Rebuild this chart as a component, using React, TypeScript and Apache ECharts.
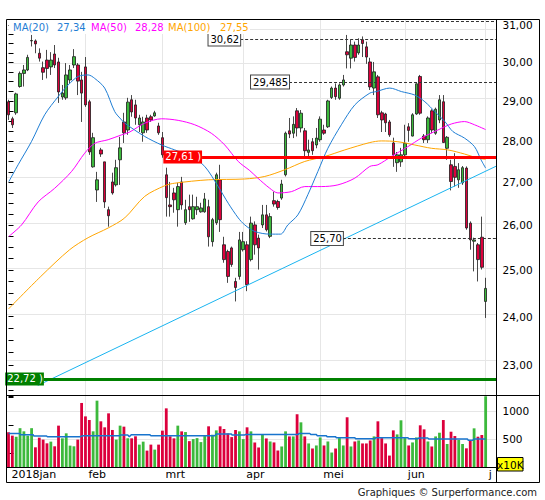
import React, { useEffect, useRef } from "react";
import * as echarts from "echarts";

// ---- price data (one entry per trading day, 2018-01-04 .. 2018-07-02) ----
const openP = [28.98,28.55,28.70,29.37,29.71,29.80,30.57,30.57,30.24,29.86,30.06,29.88,30.22,30.01,29.10,29.08,29.54,29.93,29.93,29.54,
29.88,28.98,27.37,26.82,27.78,27.49,26.36,27.01,26.94,27.54,28.47,28.27,29.03,28.90,28.40,28.20,28.57,28.60,28.62,28.37,
28.08,27.18,26.47,26.75,26.36,27.01,26.06,26.43,26.15,26.36,26.31,26.31,26.43,25.63,26.06,27.06,25.56,25.41,25.49,24.75,
24.86,25.45,25.56,25.23,26.01,25.71,26.01,26.24,25.75,26.57,26.55,26.63,27.18,28.25,28.19,28.75,28.32,28.25,27.72,27.98,
27.90,28.03,28.27,28.35,29.09,29.33,29.07,29.41,30.28,30.11,30.46,30.25,30.60,30.41,30.01,29.33,29.62,28.70,28.67,28.47,
27.95,27.47,27.49,27.66,28.35,28.12,28.67,29.63,28.12,28.03,28.75,28.19,28.52,28.98,27.82,27.42,27.38,27.06,26.99,27.34,
26.05,25.64,25.56,25.73,24.32];
const closeP = [28.65,28.40,29.18,29.71,29.80,30.13,30.58,30.49,30.11,29.74,29.84,30.06,29.93,29.23,29.20,29.67,29.80,30.15,29.51,29.20,
28.90,27.73,28.08,27.06,27.68,26.54,26.22,26.75,27.35,27.83,28.20,28.97,28.72,28.57,28.57,28.47,28.27,28.52,28.70,28.20,
27.66,26.64,26.43,26.59,26.90,26.47,26.36,26.36,26.43,26.43,26.40,26.61,25.74,26.13,27.18,26.13,25.23,24.86,25.12,24.62,
25.67,25.63,24.68,26.05,25.56,25.49,26.24,25.90,26.20,26.49,26.41,26.96,28.19,28.17,28.41,28.32,28.69,27.76,27.78,27.76,
28.07,28.54,28.19,29.00,29.33,29.11,29.41,29.54,30.20,30.46,30.13,30.46,30.50,30.14,29.36,29.75,28.65,28.52,28.45,28.15,
27.66,27.66,27.66,27.94,28.26,28.65,29.44,28.69,28.03,28.57,28.27,28.79,29.03,27.96,28.09,27.02,27.12,27.30,27.35,25.94,
25.67,25.67,25.23,25.06,24.60];
const highP = [29.03,28.60,29.21,29.76,29.93,30.20,30.73,30.61,30.37,30.02,30.33,30.27,30.46,30.12,29.41,29.98,29.93,30.35,29.98,29.75,
30.14,29.03,28.20,27.25,27.83,27.49,26.43,27.23,27.54,28.10,28.70,29.08,29.15,29.03,28.65,28.60,28.65,28.65,28.75,28.45,
28.22,27.35,27.01,26.87,26.99,27.13,26.59,26.71,26.71,26.66,26.52,26.75,26.59,26.17,27.23,27.42,25.74,25.45,25.52,24.83,
25.85,25.85,25.64,26.20,26.09,25.79,26.47,26.47,26.28,26.78,26.59,27.06,28.23,28.57,28.61,28.82,28.77,28.32,28.03,28.07,
28.32,28.61,28.40,29.03,29.37,29.45,29.45,29.67,30.73,30.60,30.55,30.64,30.69,30.55,30.12,30.01,29.67,28.75,28.70,28.52,
28.08,27.73,27.83,28.40,28.44,28.69,29.45,29.67,28.17,28.61,28.79,28.83,29.15,29.15,28.12,27.54,27.70,27.46,27.39,27.38,
26.09,25.72,25.60,26.20,24.83];
const lowP = [28.52,28.32,28.65,29.34,29.37,29.77,30.42,30.24,30.02,29.54,29.58,29.67,29.85,28.95,29.03,29.03,29.46,29.85,29.15,28.47,
28.85,27.66,27.35,26.54,27.61,26.40,25.97,26.71,26.90,26.94,27.95,28.15,28.60,28.40,28.22,27.98,28.20,28.47,28.60,28.15,
27.59,26.20,26.20,26.29,25.97,26.36,26.01,26.08,26.13,26.24,26.29,26.29,25.52,25.52,26.01,25.85,25.16,24.72,25.07,24.32,
24.79,25.41,24.54,25.19,25.34,25.01,25.94,25.86,25.71,26.43,26.36,26.59,27.14,28.07,28.07,28.11,28.21,27.58,27.58,27.66,
27.82,27.98,28.15,28.32,29.05,29.03,29.03,29.37,29.84,29.84,30.02,30.20,30.14,29.96,29.28,29.15,28.57,28.22,28.22,28.10,
27.37,27.25,27.37,27.62,27.98,28.11,28.65,28.65,27.95,27.95,28.19,28.15,28.44,27.95,27.54,26.81,26.90,26.87,26.94,25.90,
25.45,24.97,24.75,25.01,23.97];
// volume in units of 10K
const volume = [623,564,546,697,641,564,697,356,528,493,427,457,374,742,516,605,386,374,493,1146,
907,843,641,1187,819,712,961,665,493,742,724,516,516,552,404,457,297,404,315,404,
653,1050,552,516,742,640,628,466,502,520,449,556,730,580,658,730,682,604,538,664,
640,502,712,640,443,353,580,514,460,443,299,371,640,550,550,945,801,550,425,335,
389,532,389,460,263,335,520,389,891,371,460,478,425,425,478,550,819,520,425,209,
658,586,837,520,389,443,532,748,676,460,371,550,616,842,415,634,557,486,415,338,
473,694,545,575,1265];

// moving averages: [day index, value]
const ma20 = [[0.1,27.02],[2.5,27.42],[6,27.99],[9.4,28.65],[12.9,29.11],[15.5,29.41],[18.1,29.63],[20.7,29.67],[22.4,29.58],[25,29.33],
[27.6,28.73],[29.4,28.52],[30.2,28.44],[35.4,28.11],[39.8,27.90],[43.2,27.78],[47.5,27.62],[51,27.38],[54.5,26.90],[57.1,26.51],
[59.7,26.17],[61.4,26.01],[64,25.86],[67.9,25.80],[70.7,25.80],[72.6,26.01],[75.2,26.24],[77.8,26.71],[80.4,27.26],[83,27.82],
[86.5,28.40],[90,28.90],[93.9,29.20],[95.6,29.24],[99.1,29.33],[102.1,29.24],[105.6,29.15],[108.2,28.98],[110.8,28.73],[113.4,28.48],
[115.5,28.23],[118.5,28.07],[121.1,27.86],[122.8,27.54],[124,27.34]];
const ma50 = [[0.1,25.75],[3.4,26.01],[7.7,26.54],[12,26.86],[16.4,27.26],[19.8,27.70],[22.4,27.94],[25.9,28.03],[29.4,28.15],[31.5,28.22],
[35.4,28.44],[39.8,28.55],[44.1,28.51],[48.4,28.40],[52.7,28.19],[56.2,27.90],[59.7,27.50],[62.7,27.28],[64.8,27.10],[67.9,26.86],
[70,26.75],[73.5,26.78],[77,26.90],[81.3,26.90],[85.6,26.94],[90,27.10],[93.9,27.38],[96,27.42],[99.5,27.62],[103.8,27.86],
[107.3,28.07],[111.6,28.27],[115.1,28.42],[118.5,28.48],[121.1,28.40],[124,28.28]];
const ma100 = [[0,24.16],[8.4,24.86],[15.9,25.45],[20.7,25.72],[25.9,25.94],[30.2,26.17],[35.4,26.67],[40.6,26.92],[43.2,26.98],[51.9,27.06],
[61.4,27.08],[66.6,27.14],[71.8,27.30],[77,27.50],[82.2,27.62],[87.4,27.78],[93.9,27.96],[96.9,28.00],[101.2,27.98],[105.6,27.90],
[109.9,27.82],[114.2,27.78],[118.5,27.68],[122,27.58],[124,27.55]];
const volMa = [[0,600],[2.9,600],[3.1,581],[6.4,581],[6.6,557],[9.9,557],[10.1,545],[18.5,545],[19.4,563],[28.9,563],
[29.1,575],[31,575],[31.4,545],[31.9,581],[36.7,581],[37,563],[53.6,563],[54,593],[57.9,593],[58.1,575],
[61.4,575],[61.6,586],[75.3,586],[75.5,604],[78.3,604],[78.5,586],[80,586],[80.2,563],[82.6,563],[82.8,545],
[85,545],[85.2,527],[90,527],[90.2,509],[95.2,509],[95.4,527],[103.8,527],[104,509],[106.4,509],[106.6,520],
[109,520],[109.2,503],[119.3,503],[119.5,480],[120.7,480],[120.9,503],[124,503]];
const trendLine = [[7.6,22.59],[126.82,27.39]];

// levels
const levelPrices = [31.10, 30.62, 29.485, 25.70];
const levelStarts = [91.6, 60.2, 72.9, 86.9];
const levelTexts = ["", "30,62", "29,485", "25,70"];
const resistance = { price: 27.61, start: 50.3, text: "27,61 )" };
const support = { price: 22.72, start: 9.2, text: "22,72 )" };

// axes
const monthStarts = [0, 20, 40, 61, 81, 103, 124];
const monthLabels = ["2018jan", "feb", "mrt", "apr", "mei", "jun", "j"];
const priceLabels = [23, 24, 25, 26, 27, 28, 29, 30, 31];
const priceTicks = [22.5,22.75,23,23.25,23.5,23.75,24,24.25,24.5,24.75,25,25.25,25.5,25.75,26,26.25,26.5,26.75,27,27.25,27.5,27.75,28,28.25,28.5,28.75,29,29.25,29.5,29.75,30,30.25,30.5,30.75,31];
const volLabels = [500, 1000];
const legendItems = [
  { text: "MA(20)", x: 13, color: "#1f7ed4" },
  { text: "27,34", x: 57, color: "#1f7ed4" },
  { text: "MA(50)", x: 91, color: "#ff00ff" },
  { text: "28,28", x: 135, color: "#ff00ff" },
  { text: "MA(100)", x: 168, color: "#ffa500" },
  { text: "27,55", x: 220, color: "#ffa500" },
];

const GREEN = "#3cb93c";
const RED = "#dc003c";
const GRID = "#e6e6e6";
const X_MIN = -0.39;
const X_MAX = 126.82;
const P_MIN = 22.402;
const P_MAX = 31.136;
const FONT = '"DejaVu Sans", Verdana, sans-serif';
const L = (p: number) => Math.log(p);

function buildOption() {
  const candles = openP.map((o, i) => [i, L(o), L(closeP[i]), L(lowP[i]), L(highP[i])]);
  const volBars = volume.map((v, i) => ({
    value: [i, v],
    itemStyle: { color: closeP[i] >= openP[i] ? GREEN : RED },
  }));
  const lineData = (arr: number[][]) => arr.map(([x, p]) => [x, L(p)]);

  const dashed = levelPrices.map((p, k) => [
    {
      coord: [levelStarts[k], L(p)],
      lineStyle: { color: "#333", width: 1, type: [3, 2] },
      label: levelTexts[k]
        ? {
            show: true, position: "start", distance: 0, formatter: levelTexts[k],
            color: "#000", fontSize: 10, fontFamily: FONT, backgroundColor: "#fff",
            borderColor: "#444", borderWidth: 1, padding: [2, 1, 1, 2],
          }
        : { show: false },
    },
    { coord: [X_MAX, L(p)] },
  ]);
  const solidLevel = (lv: { price: number; start: number; text: string }, col: string) => [
    {
      coord: [lv.start, L(lv.price)],
      lineStyle: { color: col, width: 3, type: "solid" },
      label: {
        show: true, position: "start", distance: 0, formatter: lv.text,
        color: "#fff", fontSize: 10, fontFamily: FONT, backgroundColor: col, padding: [2, 1, 1, 2],
      },
    },
    { coord: [X_MAX, L(lv.price)] },
  ];

  const tickStyle = { show: true, length: 5, lineStyle: { color: "#000", width: 1 } };

  return {
    animation: false,
    backgroundColor: "#fff",
    textStyle: { fontFamily: FONT },
    grid: [
      { left: 7, top: 20, width: 489.5, height: 375 },
      { left: 7, top: 396, width: 489.5, height: 71.3 },
    ],
    xAxis: [
      {
        type: "value", gridIndex: 0, min: X_MIN, max: X_MAX,
        axisLine: { show: false }, axisTick: { show: false }, axisLabel: { show: false }, splitLine: { show: false },
      },
      {
        type: "value", gridIndex: 1, min: X_MIN, max: X_MAX,
        axisLine: { show: false }, axisTick: { show: false }, splitLine: { show: false },
        axisLabel: {
          show: true, customValues: monthStarts, margin: 2, align: "left", padding: [0, 0, 0, 3],
          color: "#000", fontSize: 11, fontFamily: FONT,
          formatter: (v: number) => {
            const k = monthStarts.indexOf(Math.round(v));
            return k >= 0 ? monthLabels[k] : "";
          },
        },
      },
    ],
    yAxis: [
      {
        type: "value", gridIndex: 0, position: "right", min: L(P_MIN), max: L(P_MAX),
        axisLine: { show: false }, splitLine: { show: false },
        axisTick: { ...tickStyle, customValues: priceTicks.map(L) },
        axisLabel: {
          customValues: priceLabels.map(L), margin: 6, color: "#000", fontSize: 10.5, fontFamily: FONT,
          formatter: (v: number) => Math.exp(v).toFixed(2).replace(".", ","),
        },
      },
      {
        type: "value", gridIndex: 1, position: "right", min: 0, max: 1270, interval: 250,
        axisLine: { show: false }, splitLine: { show: false },
        axisTick: tickStyle,
        axisLabel: {
          margin: 6, color: "#000", fontSize: 10.5, fontFamily: FONT,
          formatter: (v: number) => (volLabels.indexOf(v) >= 0 ? String(v) : ""),
        },
      },
    ],
    series: [
      {
        type: "candlestick", xAxisIndex: 0, yAxisIndex: 0, z: 3,
        data: candles, encode: { x: 0, y: [1, 2, 3, 4] }, barWidth: 3,
        itemStyle: { color: GREEN, color0: RED, borderColor: "#1a1a1a", borderColor0: "#1a1a1a", borderWidth: 0.8 },
        markLine: {
          silent: true, z: 1, symbol: ["none", "none"], label: { show: false }, animation: false,
          lineStyle: { color: GRID, width: 1, type: "solid" },
          data: [
            ...priceLabels.map((p) => ({ yAxis: L(p) })),
            ...monthStarts.slice(1).map((i) => ({ xAxis: i })),
          ],
        },
      },
      {
        type: "line", xAxisIndex: 0, yAxisIndex: 0, z: 4, data: lineData(ma100),
        symbol: "none", smooth: 0.3, lineStyle: { color: "#ffa500", width: 1 },
      },
      {
        type: "line", xAxisIndex: 0, yAxisIndex: 0, z: 4, data: lineData(ma50),
        symbol: "none", smooth: 0.3, lineStyle: { color: "#ff00ff", width: 1 },
      },
      {
        type: "line", xAxisIndex: 0, yAxisIndex: 0, z: 4, data: lineData(ma20),
        symbol: "none", smooth: 0.3, lineStyle: { color: "#1f7ed4", width: 1 },
      },
      {
        type: "line", xAxisIndex: 0, yAxisIndex: 0, z: 5, data: lineData(trendLine),
        symbol: "none", lineStyle: { color: "#19b4f0", width: 1 },
        markLine: {
          silent: true, z: 6, symbol: ["none", "none"], animation: false,
          data: [...dashed, solidLevel(resistance, "#ff0000"), solidLevel(support, "#008000")],
        },
      },
      {
        type: "bar", xAxisIndex: 1, yAxisIndex: 1, z: 2, data: volBars, barWidth: 2.8,
        markLine: {
          silent: true, z: 1, symbol: ["none", "none"], label: { show: false }, animation: false,
          lineStyle: { color: GRID, width: 1, type: "solid" },
          data: [
            ...volLabels.map((v) => ({ yAxis: v })),
            ...monthStarts.slice(1).map((i) => ({ xAxis: i })),
          ],
        },
      },
      {
        type: "line", xAxisIndex: 1, yAxisIndex: 1, z: 3, data: volMa,
        symbol: "none", lineStyle: { color: "#1874cd", width: 1.5 },
      },
    ],
    graphic: [
      { type: "rect", z: 100, shape: { x: 6.5, y: 19.5, width: 533, height: 463 }, style: { fill: "none", stroke: "#000", lineWidth: 1 } },
      { type: "line", z: 100, shape: { x1: 496.5, y1: 19.5, x2: 496.5, y2: 482.5 }, style: { stroke: "#000", lineWidth: 1 } },
      { type: "line", z: 100, shape: { x1: 6.5, y1: 395.5, x2: 539.5, y2: 395.5 }, style: { stroke: "#000", lineWidth: 1 } },
      { type: "line", z: 100, shape: { x1: 6.5, y1: 467.5, x2: 496.5, y2: 467.5 }, style: { stroke: "#000", lineWidth: 1 } },
      { type: "rect", z: 99, shape: { x: 9, y: 21, width: 241, height: 13 }, style: { fill: "#fff" } },
      ...legendItems.map((it) => ({
        type: "text", z: 101, x: it.x, y: 27.5,
        style: { text: it.text, fill: it.color, font: `10px ${FONT}`, align: "left", verticalAlign: "middle" },
      })),
      { type: "rect", z: 101, shape: { x: 497.5, y: 457.5, width: 25.5, height: 13.5 }, style: { fill: "#ffff00", stroke: "#000", lineWidth: 1 } },
      { type: "text", z: 102, x: 510.3, y: 464.5, style: { text: "x10K", fill: "#000", font: `10.5px ${FONT}`, align: "center", verticalAlign: "middle" } },
      { type: "text", z: 101, x: 537, y: 492, style: { text: "Graphiques © Surperformance.com", fill: "#222", font: `10px ${FONT}`, align: "right", verticalAlign: "middle" } },
    ],
  };
}

export default function App() {
  const ref = useRef<HTMLDivElement>(null);
  useEffect(() => {
    if (!ref.current) return;
    const chart = echarts.init(ref.current, undefined, { renderer: "svg" });
    chart.setOption(buildOption() as any);
    return () => chart.dispose();
  }, []);
  return <div ref={ref} style={{ position: "absolute", left: 0, top: 0, width: 545, height: 500 }} />;
}
